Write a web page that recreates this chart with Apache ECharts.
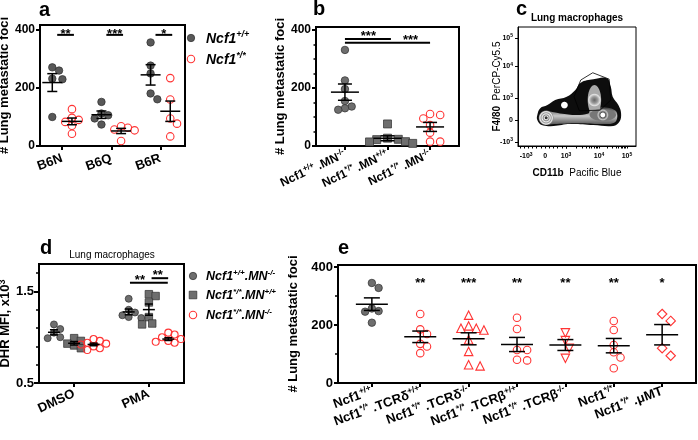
<!DOCTYPE html>
<html><head><meta charset="utf-8">
<script src="https://cdn.jsdelivr.net/npm/echarts@6/dist/echarts.min.js"></script>
<style>html,body{margin:0;padding:0;background:#fff}#c{width:698px;height:440px}</style>
</head><body><div id="c"></div>
<script>
// ================= DATA =================
// Panel a
const aCategories = ['B6N', 'B6Q', 'B6R'];
const aNcf1WT  = [[271, 260, 232, 230, 100], [152, 112, 106, 95, 74], [357, 277, 250, 181, 161]];
const aNcf1Mut = [[127, 97, 90, 83, 70, 42], [68, 63, 57, 54, 17], [234, 160, 95, 77, 33]];
const aYTicks = [0, 200, 400];
const aSigLabels = ['**', '***', '*'];
const aSigY = 383;

// Panel b
const bCategories = ['{n|Ncf1}{s|+/+}{n| .MN}{s|-/-}', '{n|Ncf1}{s|*/*}{n| .MN}{s|+/+}', '{n|Ncf1}{s|*/*}{n| .MN}{s|-/-}'];
const bWT_MNko  = [331, 226, 196, 155, 136, 130, 125];
const bMut_MNwt = [76, 27, 23, 22, 15, 14, 9];
const bMut_MNko = [110, 107, 95, 72, 46, 15, 15];
const bYTicks = [0, 200, 400];
const bYMinor = [50, 100, 150, 250, 300, 350];
const bSigBars = [[0, 1.08, 369, 0.55], [0, 2, 356, 1.54]];
const bSigLabels = ['***', '***'];

// Panel c (flow cytometry, biexponential display units)
const cXLabelPos = [-0.9, 0, 1, 2.57, 3.9];
const cXLabels = ['{n|-10}{s|3}', '{n|0}', '{n|10}{s|3}', '{n|10}{s|4}', '{n|10}{s|5}'];
const cYLabelPos = [3.73, 2.45, 1, 0, -1];
const cYLabels = ['{n|10}{s|5}', '{n|10}{s|4}', '{n|10}{s|3}', '{n|0}', '{n|-10}{s|3}'];
const cOutline = [[-0.37,0.23],[-0.24,0.53],[0.11,0.68],[0.48,0.91],[1.03,1.06],[1.43,1.36],[1.70,1.70],[2.30,1.85],[2.94,1.90],[3.13,1.51],[3.22,1.06],[3.49,0.68],[3.62,0.30],[3.54,-0.08],[3.25,-0.27],[2.30,-0.23],[1.19,-0.18],[0.40,-0.27],[-0.16,-0.23],[-0.37,0]];
const cBand = [[-0.24,0.23],[0.08,0.38],[0.71,0.30],[1.51,0.23],[2.06,0.30],[2.14,0.45],[2.62,0.58],[3.33,0.45],[3.44,0.15],[3.29,-0.12],[2.62,-0.18],[1.51,-0.15],[0.56,-0.18],[-0.08,-0.18],[-0.27,0]];
const cGate = [[1.70,1.82],[2.27,2.15],[3.05,1.86],[3.13,0.91],[2.62,0.45],[1.63,0.42],[1.38,1.06]];
// ellipses: cx, cy, rx, ry, shading index
const cBlobs = [[2.35,0.91,0.32,0.68,0],[2.75,0.23,0.63,0.27,1],[0.05,0.10,0.35,0.33,2],[0.92,0.68,0.16,0.15,3]];

// Panel d
const dCategories = ['DMSO', 'PMA'];
const dWT_MNko  = [[1.14, 1.09, 1.05, 1.00, 0.99], [1.42, 1.30, 1.27, 1.24, 1.22, 1.21]];
const dMut_MNwt = [[0.99, 0.96, 0.93, 0.91, 0.88], [1.47, 1.45, 1.38, 1.22, 1.15, 1.14]];
const dMut_MNko = [[0.98, 0.96, 0.94, 0.93, 0.92, 0.90, 0.88, 0.86], [1.05, 1.03, 1.00, 0.98, 0.96, 0.95, 0.94, 0.93]];
const dYTicks = [0.5, 1.5];
const dYMinor = [0.7, 0.9, 1.1, 1.3, 1.7];
const dSigBars = [[0.747, 1.253, 1.594, 0.88], [1.036, 1.258, 1.645, 1.12]];
const dSigLabels = ['**', '**'];

// Panel e
const eCategories = [
  '{n|Ncf1}{s|+/+}',
  '{n|Ncf1}{s|*/*}{n| .TCRδ}{s|+/+}',
  '{n|Ncf1}{s|*/*}{n| .TCRδ}{s|-/-}',
  '{n|Ncf1}{s|*/*}{n| .TCRβ}{s|+/+}',
  '{n|Ncf1}{s|*/*}{n| .TCRβ}{s|-/-}',
  '{n|Ncf1}{s|*/*}',
  '{n|Ncf1}{s|*/*}{n| .μMT}'
];
const eGroups = [
  [345, 328, 257, 248, 246, 208],
  [238, 185, 169, 135, 126, 103],
  [234, 197, 189, 189, 183, 149, 109, 63, 59],
  [225, 186, 114, 114, 80, 78],
  [173, 146, 120, 85],
  [214, 183, 131, 106, 88, 51],
  [238, 214, 120, 94]
];
const eSigLabels = ['', '**', '***', '**', '**', '**', '*'];
const eSigY = 343;
const eYTicks = [0, 200, 400];
const eYMinor = [100, 300];

// ================= LAYOUT / STYLE =================
const FONT = '"Liberation Sans", Arial, Helvetica, sans-serif';
const GRAY = '#585858', GRAY2 = '#6e6e6e', RED = '#ff3434';
const GA = {left:40, top:25, width:145, height:121, xMin:-0.45, xMax:2.5, yMin:0, yMax:417};
const GB = {left:316, top:27, width:143, height:119, xMin:-0.68, xMax:2.68, yMin:0, yMax:410};
const GC = {left:518, top:27, width:118, height:119, xMin:-1.29, xMax:4.33, yMin:-1.18, yMax:4.23};
const GD = {left:39, top:264, width:145, height:119, xMin:-0.47, xMax:1.47, yMin:0.5, yMax:1.8};
const GE = {left:338, top:265, width:358, height:118, xMin:-0.7, xMax:6.7, yMin:0, yMax:407};
const GRIDS = [GA, GB, GC, GD, GE];
GRIDS.forEach(g => { g.px = g.width / (g.xMax - g.xMin); g.py = g.height / (g.yMax - g.yMin); });

function rs(size, weight, italic, sup) {
  const o = {fontFamily: FONT, fontSize: size, fontWeight: weight, fontStyle: italic ? 'italic' : 'normal', color: '#000'};
  if (sup) { o.verticalAlign = 'top'; o.lineHeight = size; } else { o.lineHeight = Math.round(size * 1.25); }
  return o;
}
function richSet(size, supSize, weight, italic) { return {n: rs(size, weight, italic, false), s: rs(supSize, weight, italic, true)}; }
function nearestIdx(arr, v) { let b = 0; arr.forEach((a, i) => { if (Math.abs(a - v) < Math.abs(arr[b] - v)) b = i; }); return b; }
const mean = a => a.reduce((s, v) => s + v, 0) / a.length;
const sem = a => { const m = mean(a); return Math.sqrt(a.reduce((s, v) => s + (v - m) * (v - m), 0) / (a.length - 1)) / Math.sqrt(a.length); };

// simple beeswarm offsets in pixels
function swarm(vals, py, d) {
  const order = vals.map((v, i) => i).sort((a, b) => vals[b] - vals[a]);
  const placed = [], off = new Array(vals.length).fill(0);
  for (const i of order) {
    const y = vals[i] * py;
    for (let k = 0; k < 60; k++) {
      const c = k === 0 ? 0 : (k % 2 ? 1 : -1) * Math.ceil(k / 2) * d * 0.45;
      if (placed.every(p => Math.hypot(p[0] - c, p[1] - y) >= d * 0.92)) { off[i] = c; break; }
    }
    placed.push([off[i], y]);
  }
  return off;
}
function dots(gi, xc, vals, st) {
  const g = GRIDS[gi];
  const off = swarm(vals, g.py, st.size);
  return {
    type: 'scatter', xAxisIndex: gi, yAxisIndex: gi, silent: true, z: 3, animation: false,
    symbol: st.symbol || 'circle', symbolSize: st.size, symbolRotate: st.rotate || 0,
    itemStyle: st.filled ? {color: st.color, borderColor: '#2e2e2e', borderWidth: 0.7, opacity: 1}
                         : {color: 'rgba(255,255,255,0)', borderColor: st.color, borderWidth: 1.1, opacity: 1},
    data: vals.map((v, i) => [xc + off[i] / g.px, v])
  };
}
function meanSem(gi, groups, xs, mh, ch) {
  return {
    type: 'custom', xAxisIndex: gi, yAxisIndex: gi, z: 5, silent: true, animation: false,
    data: groups.map((g, i) => [xs[i], mean(g), sem(g)]),
    renderItem(params, api) {
      const x = api.value(0), m = api.value(1), s = api.value(2);
      const pm = api.coord([x, m]), pt = api.coord([x, m + s]), pb = api.coord([x, m - s]);
      const st = {stroke: '#000', lineWidth: 1.5};
      return {type: 'group', children: [
        {type: 'line', shape: {x1: pm[0] - mh, y1: pm[1], x2: pm[0] + mh, y2: pm[1]}, style: st},
        {type: 'line', shape: {x1: pt[0], y1: pt[1], x2: pb[0], y2: pb[1]}, style: st},
        {type: 'line', shape: {x1: pt[0] - ch, y1: pt[1], x2: pt[0] + ch, y2: pt[1]}, style: st},
        {type: 'line', shape: {x1: pb[0] - ch, y1: pb[1], x2: pb[0] + ch, y2: pb[1]}, style: st}
      ]};
    }
  };
}
function sig(gi, bars, labels, dy, withLine) {
  return {
    type: 'custom', xAxisIndex: gi, yAxisIndex: gi, z: 6, silent: true, animation: false,
    data: bars,
    renderItem(params, api) {
      const lab = labels[params.dataIndex];
      const y = api.value(2), tx = api.value(3);
      const pt = api.coord([tx, y]);
      const ch = [];
      if (withLine) {
        const p1 = api.coord([api.value(0), y]), p2 = api.coord([api.value(1), y]);
        ch.push({type: 'line', shape: {x1: p1[0], y1: p1[1], x2: p2[0], y2: p2[1]}, style: {stroke: '#000', lineWidth: 2}});
      }
      ch.push({type: 'text', x: pt[0], y: pt[1] + dy, style: {text: lab, fill: '#000', font: 'bold 13px ' + FONT, align: 'center', verticalAlign: 'middle'}});
      return {type: 'group', children: ch};
    }
  };
}

// ---------- axes ----------
function xAx(gi, pos, labels, o) {
  const g = GRIDS[gi];
  return {
    gridIndex: gi, type: 'value', min: g.xMin, max: g.xMax, splitLine: {show: false},
    axisLine: {show: true, onZero: false, lineStyle: {color: '#000', width: o.lw}},
    axisTick: {show: true, customValues: o.ticks || pos, length: o.tl, lineStyle: {color: '#000', width: o.tw || o.lw}},
    axisLabel: {show: true, customValues: pos, formatter: v => labels[nearestIdx(pos, v)], rotate: o.rot || 0, margin: o.margin,
      color: '#000', fontFamily: FONT, fontSize: o.fs, fontWeight: 'bold', rich: o.rich},
    name: o.name || '', nameLocation: 'middle', nameGap: o.nameGap || 20, nameTextStyle: o.nameStyle || {}
  };
}
function yAx(gi, pos, labels, o) {
  const g = GRIDS[gi];
  return {
    gridIndex: gi, type: 'value', min: g.yMin, max: g.yMax, position: 'left', splitLine: {show: false},
    axisLine: {show: true, onZero: false, lineStyle: {color: '#000', width: o.lw}},
    axisTick: {show: true, customValues: pos, length: o.tl, lineStyle: {color: '#000', width: o.lw}},
    axisLabel: {show: true, customValues: pos, formatter: v => labels[nearestIdx(pos, v)], margin: o.margin,
      color: '#000', fontFamily: FONT, fontSize: o.fs, fontWeight: 'bold', rich: o.rich},
    name: o.name || '', nameLocation: 'middle', nameRotate: 90, nameGap: o.nameGap, nameTextStyle: o.nameStyle || {},
    nameMoveOverlap: o.nameMove !== false
  };
}
function yMinorAx(gi, pos, len) {
  const g = GRIDS[gi];
  return {gridIndex: gi, type: 'value', min: g.yMin, max: g.yMax, position: 'left', offset: 0, splitLine: {show: false},
    axisLine: {show: false, onZero: false}, axisLabel: {show: false},
    axisTick: {show: true, customValues: pos, length: len, lineStyle: {color: '#000', width: 1.5}}};
}
const yTitle = {fontFamily: FONT, fontSize: 13, fontWeight: 'bold', color: '#000'};

// c axis tick positions (log minors between decades, linear near zero)
const cXTicks = [];
for (let v = -1.2; v <= 1.0001; v += 0.2) cXTicks.push(+v.toFixed(2));
[[1, 2.57], [2.57, 3.9]].forEach(([p0, p1]) => { for (let m = 1; m <= 9; m++) cXTicks.push(p0 + Math.log10(m) * (p1 - p0)); });
cXTicks.push(3.9);

const xAxes = [
  xAx(0, [0, 1, 2], aCategories, {lw: 2, tl: 4, rot: 20, margin: 12, fs: 13}),
  xAx(1, [0, 1, 2], bCategories, {lw: 2, tl: 4, rot: 25, margin: 8, fs: 12, rich: richSet(12, 8, 'bold', false)}),
  xAx(2, cXLabelPos, cXLabels, {lw: 1, tl: 2.5, tw: 1, ticks: cXTicks, margin: 6, fs: 7, rich: richSet(7, 5, 'bold', false),
    name: '{b|CD11b}{r|  Pacific Blue}', nameGap: 22,
    nameStyle: {rich: {b: {fontFamily: FONT, fontSize: 10, fontWeight: 'bold', color: '#000'}, r: {fontFamily: FONT, fontSize: 10, color: '#000'}}}}),
  xAx(3, [0, 1], dCategories, {lw: 2, tl: 4, rot: 25, margin: 10, fs: 13}),
  xAx(4, [0, 1, 2, 3, 4, 5, 6], eCategories, {lw: 2, tl: 4, rot: 20, margin: 8, fs: 13, rich: richSet(13, 8.5, 'bold', false)})
];
const yAxes = [
  yAx(0, aYTicks, aYTicks.map(String), {lw: 2, tl: 4, margin: 5, fs: 12, name: '# Lung metastatic foci', nameGap: 23, nameStyle: yTitle}),
  yAx(1, bYTicks, bYTicks.map(String), {lw: 2, tl: 4, margin: 5, fs: 12, name: '# Lung metastatic foci', nameGap: 29, nameStyle: yTitle}),
  yAx(2, cYLabelPos, cYLabels, {lw: 1, tl: 3, margin: 5, fs: 7, rich: richSet(7, 5, 'bold', false),
    name: '{b|F4/80}{r|  PerCP-Cy5.5}', nameGap: 16, nameMove: false,
    nameStyle: {rich: {b: {fontFamily: FONT, fontSize: 10, fontWeight: 'bold', color: '#000'}, r: {fontFamily: FONT, fontSize: 10, color: '#000'}}}}),
  yAx(3, dYTicks, ['0.5', '1.5'], {lw: 2, tl: 5, margin: 5, fs: 13, name: '{n|DHR MFI, x10}{s|3}', nameGap: 22,
    nameStyle: {rich: richSet(13, 9, 'bold', false)}}),
  yAx(4, eYTicks, eYTicks.map(String), {lw: 2, tl: 4, margin: 5, fs: 13, name: '# Lung metastatic foci', nameGap: 27, nameStyle: yTitle}),
  yMinorAx(1, bYMinor, 2.5),
  yMinorAx(3, dYMinor, 3),
  yMinorAx(4, eYMinor, 3)
];

// ---------- series ----------
const series = [];
const stGrayA = {filled: true, color: GRAY, size: 7.5};
const stGray = {filled: true, color: GRAY2, size: 7.5};
const stRed = {filled: false, color: RED, size: 7.5};

// a
aNcf1WT.forEach((v, k) => series.push(dots(0, k - 0.2, v, stGrayA)));
aNcf1Mut.forEach((v, k) => series.push(dots(0, k + 0.2, v, stRed)));
series.push(meanSem(0, aNcf1WT.concat(aNcf1Mut), [-0.2, 0.8, 1.8, 0.2, 1.2, 2.2], 10, 5));
series.push(sig(0, aCategories.map((c, k) => [k - 0.1, k + 0.24, aSigY, k + 0.07]), aSigLabels, 0, true));

// b
series.push(dots(1, 0, bWT_MNko, stGray));
series.push(dots(1, 1, bMut_MNwt, Object.assign({}, stGray, {symbol: 'rect', size: 8})));
series.push(dots(1, 2, bMut_MNko, stRed));
series.push(meanSem(1, [bWT_MNko, bMut_MNwt, bMut_MNko], [0, 1, 2], 14, 7));
series.push(sig(1, bSigBars, bSigLabels, -2.5, true));

// c  (contour shapes)
const cShade = [
  [[0, '#666'], [0.5, '#9c9c9c'], [0.85, '#e2e2e2'], [1, '#aaa']],
  [[0, '#fff'], [0.33, '#fff'], [0.48, '#555'], [0.8, '#c4c4c4'], [1, '#777']],
  [[0, '#333'], [0.15, '#333'], [0.25, '#eee'], [0.4, '#888'], [0.55, '#eee'], [0.7, '#999'], [0.85, '#eee'], [1, '#888']],
  [[0, '#fff'], [1, '#fff']]
];
series.push({
  type: 'custom', xAxisIndex: 2, yAxisIndex: 2, z: 2, silent: true, animation: false, clip: true,
  data: [[0, 0]],
  renderItem(params, api) {
    const P = arr => arr.map(p => api.coord(p));
    const grad = stops => new echarts.graphic.RadialGradient(0.5, 0.5, 0.5, stops.map(s => ({offset: s[0], color: s[1]})));
    const ch = [];
    ch.push({type: 'polygon', shape: {points: P(cOutline), smooth: 0.4}, style: {fill: '#0d0d0d'}});
    ch.push({type: 'polygon', shape: {points: P(cBand), smooth: 0.4},
      style: {fill: new echarts.graphic.LinearGradient(0, 0, 0, 1, [{offset: 0, color: '#3a3a3a'}, {offset: 0.5, color: '#c8c8c8'}, {offset: 1, color: '#555'}])}});
    cBlobs.forEach(b => {
      const pts = [];
      for (let t = 0; t < 48; t++) { const a = t / 48 * Math.PI * 2; pts.push([b[0] + b[2] * Math.cos(a), b[1] + b[3] * Math.sin(a)]); }
      ch.push({type: 'polygon', shape: {points: P(pts)}, style: {fill: grad(cShade[b[4]])}});
    });
    ch.push({type: 'polygon', shape: {points: P(cGate)}, style: {fill: 'none', stroke: '#000', lineWidth: 0.8}});
    return {type: 'group', children: ch};
  }
});

// d
const dOff = [-0.27, 0, 0.26];
dWT_MNko.forEach((v, k) => series.push(dots(3, k + dOff[0], v, Object.assign({}, stGray, {size: 7}))));
dMut_MNwt.forEach((v, k) => series.push(dots(3, k + dOff[1], v, Object.assign({}, stGray, {symbol: 'rect', size: 7.5}))));
dMut_MNko.forEach((v, k) => series.push(dots(3, k + dOff[2], v, Object.assign({}, stRed, {size: 7}))));
series.push(meanSem(3, dWT_MNko.concat(dMut_MNwt, dMut_MNko), [dOff[0], 1 + dOff[0], dOff[1], 1 + dOff[1], dOff[2], 1 + dOff[2]], 6, 4));
series.push(sig(3, dSigBars, dSigLabels, -2.5, true));

// e
const eStyles = [
  stGray, stRed,
  {filled: false, color: RED, size: 8.5, symbol: 'triangle'},
  stRed,
  {filled: false, color: RED, size: 8.5, symbol: 'triangle', rotate: 180},
  stRed,
  {filled: false, color: RED, size: 9.5, symbol: 'diamond'}
];
eGroups.forEach((v, k) => series.push(dots(4, k, v, eStyles[k])));
series.push(meanSem(4, eGroups, eGroups.map((g, k) => k), 16, 8));
series.push(sig(4, eGroups.map((g, k) => [k, k, eSigY, k]), eSigLabels, 0, false));

// ---------- graphics (panel letters, titles, legends) ----------
const letter = (t, x, y) => ({type: 'text', x, y, style: {text: t, font: 'bold 20px ' + FONT, fill: '#000', verticalAlign: 'bottom'}, silent: true});
const legRichA = richSet(14, 9, 'bold', true);
const legRichD = richSet(12.5, 8, 'bold', true);
const graphics = [
  letter('a', 39, 20), letter('b', 313, 19), letter('c', 516, 19), letter('d', 40, 258), letter('e', 338, 258),
  {type: 'text', x: 577, y: 18, style: {text: 'Lung macrophages', font: 'bold 10px ' + FONT, fill: '#000', align: 'center', verticalAlign: 'middle'}},
  {type: 'text', x: 112, y: 255, style: {text: 'Lung macrophages', font: '10px ' + FONT, fill: '#000', align: 'center', verticalAlign: 'middle'}},
  // legend a
  {type: 'circle', shape: {cx: 191, cy: 38, r: 3.7}, style: {fill: GRAY, stroke: '#2e2e2e', lineWidth: 0.7}},
  {type: 'text', x: 206, y: 39, style: {text: '{n|Ncf1}{s|+/+}', rich: legRichA, verticalAlign: 'middle'}},
  {type: 'circle', shape: {cx: 191, cy: 59, r: 3.7}, style: {fill: 'none', stroke: RED, lineWidth: 1.1}},
  {type: 'text', x: 206, y: 60, style: {text: '{n|Ncf1}{s|*/*}', rich: legRichA, verticalAlign: 'middle'}},
  // legend d
  {type: 'circle', shape: {cx: 193, cy: 276, r: 3.7}, style: {fill: GRAY2, stroke: '#2e2e2e', lineWidth: 0.7}},
  {type: 'text', x: 206, y: 277, style: {text: '{n|Ncf1}{s|+/+}{n|.MN}{s|-/-}', rich: legRichD, verticalAlign: 'middle'}},
  {type: 'rect', shape: {x: 189.2, y: 291.2, width: 7.6, height: 7.6}, style: {fill: GRAY2, stroke: '#2e2e2e', lineWidth: 0.7}},
  {type: 'text', x: 206, y: 296, style: {text: '{n|Ncf1}{s|*/*}{n|.MN}{s|+/+}', rich: legRichD, verticalAlign: 'middle'}},
  {type: 'circle', shape: {cx: 193, cy: 315, r: 3.7}, style: {fill: 'none', stroke: RED, lineWidth: 1.1}},
  {type: 'text', x: 206, y: 316, style: {text: '{n|Ncf1}{s|*/*}{n|.MN}{s|-/-}', rich: legRichD, verticalAlign: 'middle'}}
];

const chart = echarts.init(document.getElementById('c'), null, {renderer: 'canvas', width: 698, height: 440});
chart.setOption({
  animation: false,
  backgroundColor: '#fff',
  textStyle: {fontFamily: FONT},
  grid: GRIDS.map((g, i) => ({left: g.left, top: g.top, width: g.width, height: g.height, show: true,
    borderColor: '#000', borderWidth: i === 2 ? 1 : 2, backgroundColor: 'rgba(0,0,0,0)', containLabel: false, outerBoundsMode: 'none'})),
  xAxis: xAxes,
  yAxis: yAxes,
  series: series,
  graphic: graphics
});
</script>
</body></html>
